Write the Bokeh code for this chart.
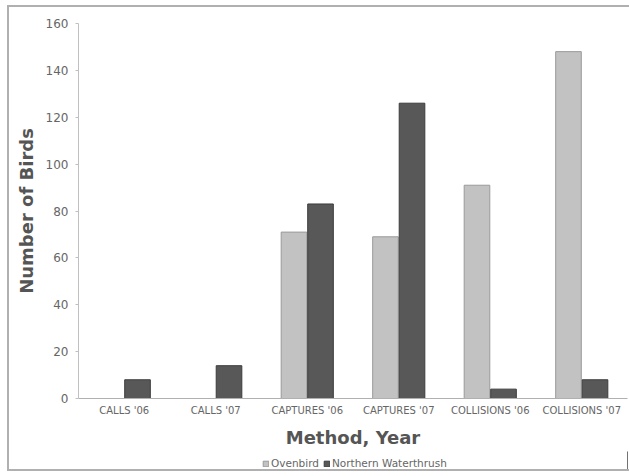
from bokeh.plotting import figure
from bokeh.layouts import column
from bokeh.models import ColumnDataSource, FactorRange, Range1d, FixedTicker, Legend, LegendItem
from bokeh.transform import dodge
from bokeh.embed import file_html
from bokeh.resources import INLINE

categories = ["CALLS '06", "CALLS '07", "CAPTURES '06", "CAPTURES '07", "COLLISIONS '06", "COLLISIONS '07"]
ovenbird = [0, 0, 71, 69, 91, 148]
waterthrush = [8, 14, 83, 126, 4, 8]
y_ticks = [0, 20, 40, 60, 80, 100, 120, 140, 160]
series_names = ["Ovenbird", "Northern Waterthrush"]
oven_fill, oven_line = "#c2c2c2", "#9a9a9a"
wt_fill, wt_line = "#585858", "#3c3c3c"

src = ColumnDataSource(dict(cat=categories, oven=ovenbird, wt=waterthrush))
font = "DejaVu Sans"

p = figure(width=626, height=444, x_range=FactorRange(*categories), y_range=Range1d(0, 160),
           output_backend="svg", toolbar_location=None,
           min_border_left=69, min_border_right=8, min_border_top=16, min_border_bottom=53)
p.outline_line_color = None
p.xgrid.grid_line_color = None
p.ygrid.grid_line_color = None

p.vbar(x=dodge('cat', -0.145, range=p.x_range), top='oven', width=0.28, source=src,
       fill_color=oven_fill, line_color=oven_line, line_width=1)
p.vbar(x=dodge('cat', 0.145, range=p.x_range), top='wt', width=0.28, source=src,
       fill_color=wt_fill, line_color=wt_line, line_width=1)

p.yaxis.ticker = FixedTicker(ticks=y_ticks)
p.yaxis.axis_label = "Number of Birds"
p.yaxis.axis_label_text_font = font
p.yaxis.axis_label_text_font_style = "bold"
p.yaxis.axis_label_text_font_size = "18px"
p.yaxis.axis_label_text_color = "#555555"
p.yaxis.axis_label_standoff = 6
p.yaxis.major_label_text_font = font
p.yaxis.major_label_text_font_size = "12px"
p.yaxis.major_label_text_color = "#666666"
p.yaxis.major_label_standoff = 7
p.yaxis.axis_line_color = "#c0c0c0"
p.yaxis.major_tick_line_color = "#c0c0c0"
p.yaxis.major_tick_in = 0
p.yaxis.major_tick_out = 3
p.yaxis.minor_tick_line_color = None

p.xaxis.axis_label = "Method, Year"
p.xaxis.axis_label_text_font = font
p.xaxis.axis_label_text_font_style = "bold"
p.xaxis.axis_label_text_font_size = "18px"
p.xaxis.axis_label_text_color = "#555555"
p.xaxis.axis_label_standoff = 8
p.xaxis.major_label_text_font = font
p.xaxis.major_label_text_font_size = "10px"
p.xaxis.major_label_text_color = "#666666"
p.xaxis.major_label_standoff = 6
p.xaxis.axis_line_color = "#b0b0b0"
p.xaxis.major_tick_line_color = None
p.xaxis.major_tick_in = 0
p.xaxis.major_tick_out = 0

# legend strip (its frame is aligned with the main frame by the column layout)
q = figure(width=626, height=18, output_backend="svg", toolbar_location=None,
           x_axis_type=None, y_axis_type=None, x_range=Range1d(0, 1), y_range=Range1d(0, 1),
           min_border=0)
q.outline_line_color = None
q.xgrid.grid_line_color = None
q.ygrid.grid_line_color = None
key_src = ColumnDataSource(dict(x=[5], top=[5]))
l1 = q.vbar(x='x', top='top', width=0.1, source=key_src, fill_color=oven_fill, line_color=oven_line)
l2 = q.vbar(x='x', top='top', width=0.1, source=key_src, fill_color=wt_fill, line_color=wt_line)
legend = Legend(items=[LegendItem(label=series_names[0], renderers=[l1]),
                       LegendItem(label=series_names[1], renderers=[l2])],
                orientation="horizontal", location=(184, 0))
legend.label_text_font = font
legend.label_text_font_size = "10.5px"
legend.label_text_color = "#666666"
legend.label_height = 10
legend.glyph_width = 7
legend.glyph_height = 7
legend.label_standoff = 2
legend.spacing = 4
legend.padding = 2
legend.margin = 0
legend.border_line_color = None
legend.background_fill_alpha = 0
q.add_layout(legend, "center")

layout = column(p, q, spacing=0)
layout.margin = (5, 0, 0, 7)
layout.styles = {"border": "2px solid #b0b0b0", "border-right": "0px"}

open("out.html", "w").write(file_html(layout, INLINE))
